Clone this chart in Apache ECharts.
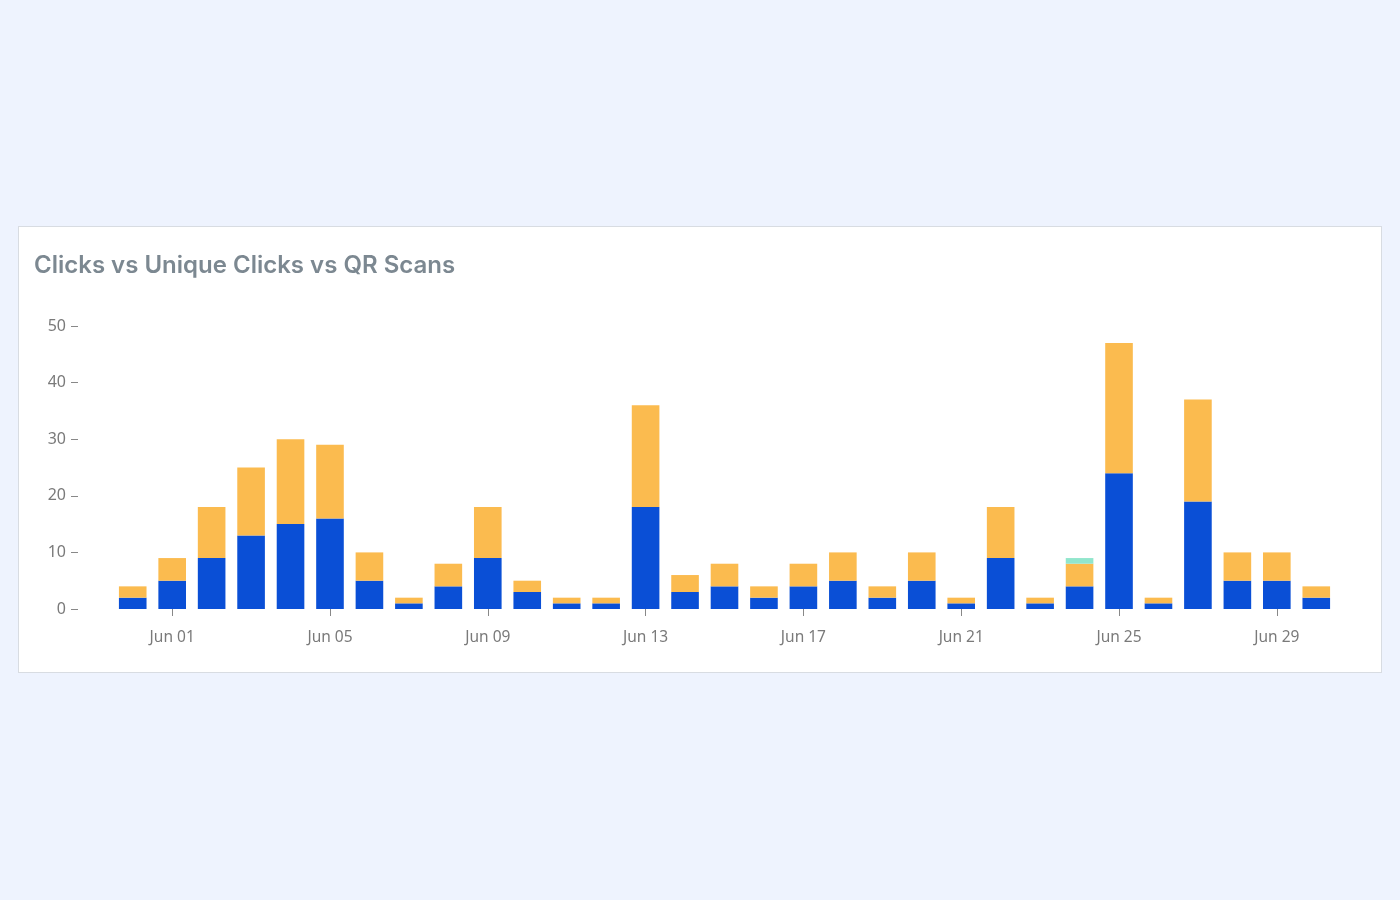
<!DOCTYPE html>
<html>
<head>
<meta charset="utf-8">
<script src="https://cdn.jsdelivr.net/npm/echarts@6/dist/echarts.min.js"></script>
<style>
  html, body { margin:0; padding:0; background:#eef3fe; width:1400px; height:900px; overflow:hidden; }
  #card { position:absolute; left:18px; top:226px; width:1362px; height:445px; background:#fff; border:1px solid #d8dce2; box-sizing:content-box; }
  #chart { width:1362px; height:445px; }
</style>
</head>
<body>
<div id="card"><div id="chart"></div></div>
<script>
const categories = ['May 31','Jun 01','Jun 02','Jun 03','Jun 04','Jun 05','Jun 06','Jun 07','Jun 08','Jun 09','Jun 10','Jun 11','Jun 12','Jun 13','Jun 14','Jun 15','Jun 16','Jun 17','Jun 18','Jun 19','Jun 20','Jun 21','Jun 22','Jun 23','Jun 24','Jun 25','Jun 26','Jun 27','Jun 28','Jun 29','Jun 30'];
const uniqueClicks = [2,5,9,13,15,16,5,1,4,9,3,1,1,18,3,4,2,4,5,2,5,1,9,1,4,24,1,19,5,5,2];
const clicks       = [2,4,9,12,15,13,5,1,4,9,2,1,1,18,3,4,2,4,5,2,5,1,9,1,4,23,1,18,5,5,2];
const qrScans      = [0,0,0,0,0,0,0,0,0,0,0,0,0,0,0,0,0,0,0,0,0,0,0,0,1,0,0,0,0,0,0];
const yTicks = [0,10,20,30,40,50];

const chart = echarts.init(document.getElementById('chart'));
const showIdx = (i) => (i - 1) % 4 === 0;
chart.setOption({
  animation: false,
  title: {
    text: 'Clicks vs Unique Clicks vs QR Scans',
    left: 10, top: 22,
    textStyle: { fontFamily: 'Inter', fontSize: 24, fontWeight: 600, color: '#7c8891' }
  },
  grid: { left: 94, right: 45, top: 99, bottom: 63, containLabel: false },
  xAxis: {
    type: 'category',
    data: categories,
    axisLine: { show: false },
    axisTick: { show: true, alignWithLabel: true, interval: showIdx, length: 7, lineStyle: { color: '#888' } },
    axisLabel: {
      interval: showIdx, margin: 21,
      fontFamily: 'Noto Sans', fontSize: 15.5, color: '#7a7a7a'
    }
  },
  yAxis: {
    type: 'value', min: yTicks[0], max: yTicks[yTicks.length-1], interval: 10,
    offset: 35,
    axisLine: { show: false },
    axisTick: { show: true, length: 7, lineStyle: { color: '#888' } },
    splitLine: { show: false },
    axisLabel: { margin: 12, fontFamily: 'Noto Sans', fontSize: 16, color: '#7a7a7a' }
  },
  series: [
    { name: 'Unique Clicks', type: 'bar', stack: 't', data: uniqueClicks, barCategoryGap: '30%', itemStyle: { color: '#0a4fd6' } },
    { name: 'Clicks', type: 'bar', stack: 't', data: clicks, itemStyle: { color: '#fbbb4f' } },
    { name: 'QR Scans', type: 'bar', stack: 't', data: qrScans, itemStyle: { color: '#91e6cc' } }
  ]
});
</script>
</body>
</html>
